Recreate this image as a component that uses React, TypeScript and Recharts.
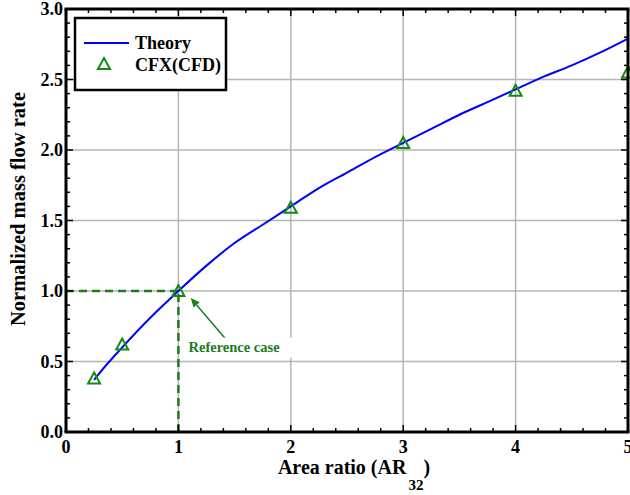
import React from 'react';
import { LineChart, Line, XAxis, YAxis, ReferenceLine, ReferenceDot } from 'recharts';

// Courbe théorique
const theoryX = [0.25, 0.3, 0.5, 0.75, 1, 1.25, 1.5, 1.75, 2, 2.25, 2.5, 2.75, 3, 3.25, 3.5, 3.75, 4, 4.25, 4.5, 4.75, 5];
const theoryY = [0.37, 0.42, 0.6, 0.81, 1.0, 1.18, 1.34, 1.47, 1.6, 1.73, 1.84, 1.95, 2.05, 2.15, 2.25, 2.34, 2.43, 2.52, 2.6, 2.69, 2.79];

// Points CFD
const cfdX = [0.25, 0.5, 1, 2, 3, 4, 5];
const cfdY = [0.38, 0.62, 1.0, 1.59, 2.05, 2.42, 2.55];

// Graduations
const xMajor = [0, 1, 2, 3, 4, 5];
const yMajor = [0, 0.5, 1, 1.5, 2, 2.5, 3];
const xMinor = Array.from({ length: 26 }, (_, i) => +(i * 0.2).toFixed(1));
const yMinor = Array.from({ length: 31 }, (_, i) => +(i * 0.1).toFixed(1));

const theory = theoryX.map((x, i) => ({ x, y: theoryY[i] }));
const cfd = cfdX.map((x, i) => ({ x, y: cfdY[i] }));

const FONT = '"Liberation Serif", "Times New Roman", serif';
const GREEN = '#138a13';
const DARK_GREEN = '#1e7b1e';

// zone de tracé (marges du graphique)
const W = 630;
const H = 495;
const M = { top: 9, right: 2, bottom: 0, left: 0 };
const Y_AXIS_W = 66;
const X_AXIS_H = 63;
const PL = M.left + Y_AXIS_W;
const PT = M.top;
const PW = W - M.right - PL;
const PH = H - M.bottom - X_AXIS_H - PT;

const isMajor = (v: number, step: number) => Math.abs(v / step - Math.round(v / step)) < 1e-6;

const XLabel = (props: any) => {
  const { x, y, payload } = props;
  return (
    <text x={x} y={y + 21} textAnchor="middle" fontFamily={FONT} fontWeight="bold" fontSize={18} fill="#000">
      {payload.value}
    </text>
  );
};

const YLabel = (props: any) => {
  const { x, y, payload } = props;
  return (
    <text x={x - 3} y={y + 6} textAnchor="end" fontFamily={FONT} fontWeight="bold" fontSize={18} fill="#000">
      {payload.value.toFixed(1)}
    </text>
  );
};

const Triangle = (props: any) => {
  const { cx, cy } = props;
  if (cx == null || cy == null) return null;
  return (
    <polygon
      points={`${cx},${cy - 6} ${cx - 6},${cy + 5} ${cx + 6},${cy + 5}`}
      fill="none"
      stroke={GREEN}
      strokeWidth={2}
    />
  );
};

const Arrow = (props: any) => {
  const { x1, y1, x2, y2 } = props;
  if (x1 == null) return null;
  const ang = Math.atan2(y2 - y1, x2 - x1);
  const L = 9;
  const Wd = 4;
  const bx = x2 - L * Math.cos(ang);
  const by = y2 - L * Math.sin(ang);
  const px = -Math.sin(ang) * Wd;
  const py = Math.cos(ang) * Wd;
  return (
    <g>
      <line x1={x1} y1={y1} x2={bx} y2={by} stroke={DARK_GREEN} strokeWidth={1.5} />
      <polygon points={`${x2},${y2} ${bx + px},${by + py} ${bx - px},${by - py}`} fill={DARK_GREEN} />
    </g>
  );
};

const NoteLabel = (props: any) => {
  const { cx, cy } = props;
  return (
    <g>
      <rect x={cx - 3} y={cy - 14} width={108} height={20} fill="#fff" />
      <text x={cx} y={cy} fontFamily={FONT} fontWeight="bold" fontSize={14.5} fill={DARK_GREEN}>
        Reference case
      </text>
    </g>
  );
};

// cadre et graduations intérieures
const Frame = () => {
  const px = (v: number) => PL + (v / 5) * PW;
  const py = (v: number) => PT + PH - (v / 3) * PH;
  return (
    <g>
      {xMinor.map((v) => {
        const len = isMajor(v, 1) ? 7 : 4;
        return (
          <g key={'x' + v}>
            <line x1={px(v)} x2={px(v)} y1={PT + PH} y2={PT + PH - len} stroke="#000" strokeWidth={1.5} />
            <line x1={px(v)} x2={px(v)} y1={PT} y2={PT + len} stroke="#000" strokeWidth={1.5} />
          </g>
        );
      })}
      {yMinor.map((v) => {
        const len = isMajor(v, 0.5) ? 7 : 4;
        return (
          <g key={'y' + v}>
            <line x1={PL} x2={PL + len} y1={py(v)} y2={py(v)} stroke="#000" strokeWidth={1.5} />
            <line x1={PL + PW} x2={PL + PW - len} y1={py(v)} y2={py(v)} stroke="#000" strokeWidth={1.5} />
          </g>
        );
      })}
      <line x1={PL - 1.5} x2={PL + PW + 1.5} y1={PT} y2={PT} stroke="#000" strokeWidth={3} />
      <line x1={PL - 1.5} x2={PL + PW + 1.5} y1={PT + PH} y2={PT + PH} stroke="#000" strokeWidth={3} />
      <line x1={PL} x2={PL} y1={PT} y2={PT + PH} stroke="#000" strokeWidth={3} />
      <line x1={PL + PW} x2={PL + PW} y1={PT} y2={PT + PH} stroke="#000" strokeWidth={3} />
    </g>
  );
};

export default function App() {
  return (
    <div style={{ position: 'absolute', left: 0, top: 0, width: W, height: H }}>
      <LineChart width={W} height={H} margin={M}>
        <XAxis
          type="number"
          dataKey="x"
          domain={[0, 5]}
          ticks={xMajor}
          interval={0}
          height={X_AXIS_H}
          tickSize={0}
          tickMargin={0}
          tick={<XLabel />}
          tickLine={false}
          axisLine={false}
        />
        <YAxis
          type="number"
          domain={[0, 3]}
          ticks={yMajor}
          interval={0}
          width={Y_AXIS_W}
          tickSize={0}
          tickMargin={0}
          tick={<YLabel />}
          tickLine={false}
          axisLine={false}
        />

        {/* Grille */}
        {xMajor.slice(1, -1).map((v) => (
          <ReferenceLine key={'gx' + v} x={v} stroke="#b5b5b5" strokeWidth={1.5} />
        ))}
        {yMajor.slice(1, -1).map((v) => (
          <ReferenceLine key={'gy' + v} y={v} stroke="#b5b5b5" strokeWidth={1.5} />
        ))}

        {/* Cas de référence */}
        <ReferenceLine
          segment={[{ x: 0, y: 1 }, { x: 1, y: 1 }]}
          stroke={DARK_GREEN}
          strokeWidth={2.5}
          strokeDasharray="8 5"
        />
        <ReferenceLine
          segment={[{ x: 1, y: 0 }, { x: 1, y: 1 }]}
          stroke={DARK_GREEN}
          strokeWidth={2.5}
          strokeDasharray="8 5"
        />
        <ReferenceLine segment={[{ x: 1.43, y: 0.65 }, { x: 1.11, y: 0.95 }]} shape={<Arrow />} />
        <ReferenceDot x={1.09} y={0.57} r={0} shape={<NoteLabel />} />

        <Line
          data={theory}
          dataKey="y"
          type="monotone"
          stroke="#0000ff"
          strokeWidth={2}
          dot={false}
          isAnimationActive={false}
        />
        <Line
          data={cfd}
          dataKey="y"
          stroke="none"
          dot={<Triangle />}
          activeDot={false}
          isAnimationActive={false}
        />
      </LineChart>
      <svg width={W} height={H} style={{ position: 'absolute', left: 0, top: 0, pointerEvents: 'none' }}>
        <Frame />
        {/* Légende */}
        <rect x={75} y={18} width={151} height={72} fill="#fff" stroke="#000" strokeWidth={2.5} />
        <line x1={84} x2={129} y1={43} y2={43} stroke="#0000ff" strokeWidth={2} />
        <text x={135} y={49} fontFamily={FONT} fontWeight="bold" fontSize={18} fill="#000">Theory</text>
        <Triangle cx={104} cy={64} />
        <text x={135} y={71} fontFamily={FONT} fontWeight="bold" fontSize={18} fill="#000">CFX(CFD)</text>
        {/* Titres des axes */}
        <text
          x={0}
          y={0}
          transform="translate(25,209) rotate(-90)"
          textAnchor="middle"
          fontFamily={FONT}
          fontWeight="bold"
          fontSize={20.5}
          fill="#000"
        >
          Normalized mass flow rate
        </text>
        <text x={354} y={474} textAnchor="middle" fontFamily={FONT} fontWeight="bold" fontSize={20} fill="#000">
          <tspan>Area ratio (AR</tspan>
          <tspan dx={2} dy={16} fontSize={15}>32</tspan>
          <tspan dy={-16}>)</tspan>
        </text>
      </svg>
    </div>
  );
}
